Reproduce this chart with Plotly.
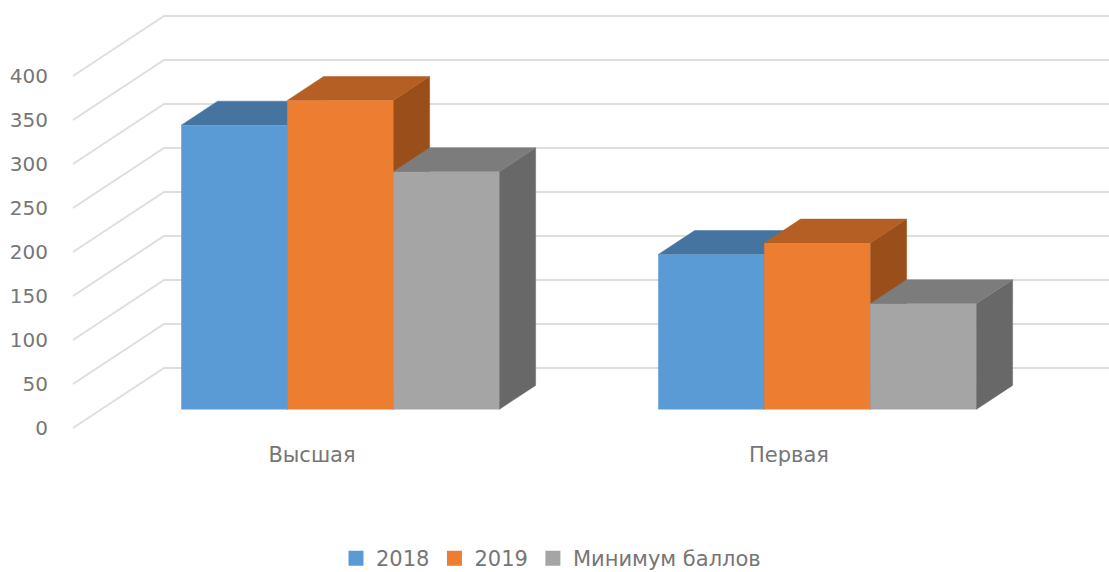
import plotly.graph_objects as go

# ---- data ----
categories = ["Высшая", "Первая"]
series_names = ["2018", "2019", "Минимум баллов"]
values_2018 = [323, 176]
values_2019 = [351, 189]
values_min = [270, 120]
y_ticks = [0, 50, 100, 150, 200, 250, 300, 350, 400]

# ---- style ----
FRONT = ["#5B9BD5", "#ED7D31", "#A5A5A5"]
TOP = ["#4674A0", "#B55F25", "#7C7C7C"]
SIDE = ["#41719C", "#9A4F1B", "#686868"]
GRID = "#DEDEDE"
TEXT = "#767676"
FONT = "DejaVu Sans"

# ---- geometry: pixel scales of the oblique projection ----
W, H = 1109, 572
M_L, PLOT_B = 55, 440
ZERO_PX, PX_PER_UNIT = 428, 0.88
CAT0_PX, CAT_PX = 312, 477
DEPTH_X = 91 / CAT_PX          # x shift from front to back wall
DEPTH_Y = 60 / PX_PER_UNIT     # y shift from front to back wall
BAR_D0, BAR_D1 = 0.31, 0.71    # bar depth span
GROUP = 318 / CAT_PX
BAR_W = GROUP / 3

x_range = [(M_L - CAT0_PX) / CAT_PX, (W - CAT0_PX) / CAT_PX]
y_range = [(ZERO_PX - PLOT_B) / PX_PER_UNIT, ZERO_PX / PX_PER_UNIT]
wall_left = (73 - CAT0_PX) / CAT_PX


def proj(x, v, d):
    return x + d * DEPTH_X, v + d * DEPTH_Y


fig = go.Figure()

# gridlines on side wall + back wall
gx, gy = [], []
for t in y_ticks:
    a = proj(wall_left, t, 0)
    b = proj(wall_left, t, 1)
    gx += [a[0], b[0], x_range[1], None]
    gy += [a[1], b[1], b[1], None]
fig.add_trace(go.Scatter(x=gx, y=gy, mode="lines", line=dict(color=GRID, width=2),
                         showlegend=False, hoverinfo="skip"))


def face(pts, color):
    xs = [p[0] for p in pts] + [pts[0][0]]
    ys = [p[1] for p in pts] + [pts[0][1]]
    fig.add_trace(go.Scatter(x=xs, y=ys, mode="lines", fill="toself", fillcolor=color,
                             line=dict(color=color, width=0.5), showlegend=False,
                             hoverinfo="skip"))


all_series = [values_2018, values_2019, values_min]
shift = DEPTH_X * BAR_D0
for c in range(len(categories)):
    for s, vals in enumerate(all_series):
        x0 = c - GROUP / 2 + s * BAR_W
        x1 = x0 + BAR_W
        v = vals[c]
        side_face = [proj(x1, 0, BAR_D0), proj(x1, v, BAR_D0),
                     proj(x1, v, BAR_D1), proj(x1, 0, BAR_D1)]
        top_face = [proj(x0, v, BAR_D0), proj(x1, v, BAR_D0),
                    proj(x1, v, BAR_D1), proj(x0, v, BAR_D1)]
        face(side_face, SIDE[s])
        face(top_face, TOP[s])

# legend entries (slightly larger swatches than the default bar symbol)
for s in range(len(all_series)):
    fig.add_trace(go.Bar(x=[None], y=[None], name=series_names[s],
                         marker=dict(color=FRONT[s], line=dict(color=FRONT[s], width=3)),
                         hoverinfo="skip"))

# front faces on an overlaid subplot so they sit above the faces behind them
base = BAR_D0 * DEPTH_Y
for s, vals in enumerate(all_series):
    fig.add_trace(go.Bar(x=[c + shift for c in range(len(categories))], y=vals,
                         base=[base] * len(vals), name=series_names[s], showlegend=False,
                         marker=dict(color=FRONT[s], line=dict(width=0)),
                         xaxis="x2", yaxis="y2", hoverinfo="skip"))

fig.update_layout(
    width=W, height=H, autosize=False,
    margin=dict(l=M_L, r=0, t=0, b=H - PLOT_B, autoexpand=False),
    paper_bgcolor="white", plot_bgcolor="white",
    barmode="group", bargap=1 - GROUP, bargroupgap=0,
    showlegend=True,
    legend=dict(orientation="h", xanchor="center", x=(551 - M_L) / (W - M_L),
                yanchor="top", y=-(538 - PLOT_B) / PLOT_B,
                font=dict(family=FONT, size=21, color=TEXT),
                traceorder="normal", bgcolor="rgba(0,0,0,0)"),
    xaxis=dict(range=x_range, tickmode="array", tickvals=list(range(len(categories))),
               ticktext=categories, showgrid=False, zeroline=False, showline=False,
               ticks="", tickfont=dict(family=FONT, size=21, color=TEXT)),
    yaxis=dict(range=y_range, tickmode="array", tickvals=y_ticks,
               ticktext=[str(t) for t in y_ticks], showgrid=False, zeroline=False,
               showline=False, ticks="", ticklabelstandoff=6,
               tickfont=dict(family=FONT, size=20, color=TEXT)),
    xaxis2=dict(range=x_range, overlaying="x", visible=False),
    yaxis2=dict(range=y_range, overlaying="y", visible=False),
)

fig.write_html("out.html", config=dict(displayModeBar=False),
               post_script="document.body.style.margin='0';document.documentElement.style.overflow='hidden';")
